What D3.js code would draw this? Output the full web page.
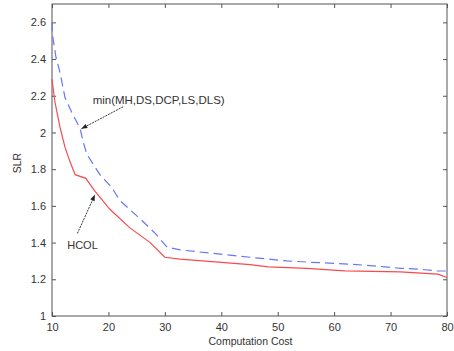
<!DOCTYPE html>
<html lang="en">
<head>
<meta charset="UTF-8">
<title>SLR vs Computation Cost</title>
<script src="https://cdn.jsdelivr.net/npm/d3@7"></script>
<style>
    html, body { margin: 0; background: #fff; }
    text { font-family: "Liberation Sans", Arial, sans-serif; fill: #333; }
</style>
</head>
<body>
<svg id="chart"></svg>
<script>
    // values
    const hcolCost = [10, 10.5, 11.4, 12.3, 13.2, 14.1, 16.0, 16.9, 17.6, 20.3, 23.8, 27.4, 30, 32.7, 45.1, 48.3, 55.2, 61.9, 71.7, 78.4, 80];
    const hcolSlr  = [2.29, 2.17, 2.03, 1.92, 1.84, 1.77, 1.75, 1.71, 1.68, 1.58, 1.48, 1.40, 1.32, 1.31, 1.28, 1.268, 1.26, 1.246, 1.24, 1.228, 1.21];
    const minCost = [10, 10.1, 10.7, 11.4, 12.3, 13.5, 15, 15.5, 16.2, 18.5, 20.6, 22, 25.6, 28.3, 30.4, 32.7, 45.1, 51.6, 55.7, 63.2, 69, 71.7, 75.2, 78.2, 80];
    const minSlr  = [2.60, 2.53, 2.41, 2.33, 2.19, 2.11, 2.02, 1.95, 1.88, 1.77, 1.70, 1.63, 1.53, 1.45, 1.375, 1.36, 1.32, 1.30, 1.293, 1.282, 1.268, 1.26, 1.255, 1.246, 1.245];
    const xTicks = [10, 20, 30, 40, 50, 60, 70, 80];
    const yTicks = [1, 1.2, 1.4, 1.6, 1.8, 2, 2.2, 2.4, 2.6];

    const width = 454, height = 351;
    const margin = {top: 4, right: 7, bottom: 35, left: 52};
    const innerWidth = width - margin.left - margin.right;
    const innerHeight = height - margin.top - margin.bottom;

    const svg = d3.select('#chart').attr('width', width).attr('height', height);
    const g = svg.append('g').attr('transform', `translate(${margin.left},${margin.top})`);

    const x = d3.scaleLinear().domain([10, 80]).range([0, innerWidth]);
    const y = d3.scaleLinear().domain([1, 2.7]).range([innerHeight, 0]);

    const axisColor = '#555';
    const styleAxis = sel => {
        sel.select('.domain').remove();
        sel.selectAll('line').attr('stroke', axisColor);
        sel.selectAll('text').style('font-size', '11px').attr('fill', '#444');
    };
    // top / right: tick marks only
    const marksOnly = sel => {
        sel.select('.domain').remove();
        sel.selectAll('text').remove();
        sel.selectAll('line').attr('stroke', axisColor);
    };

    g.append('g').attr('transform', `translate(0,${innerHeight})`)
        .call(d3.axisBottom(x).tickValues(xTicks).tickFormat(d3.format('d')).tickSizeInner(-4).tickPadding(7))
        .call(styleAxis);
    g.append('g')
        .call(d3.axisTop(x).tickValues(xTicks).tickSizeInner(-4))
        .call(marksOnly);
    g.append('g')
        .call(d3.axisLeft(y).tickValues(yTicks).tickFormat(d => d3.format('')(d)).tickSizeInner(-4).tickPadding(6))
        .call(styleAxis);
    g.append('g').attr('transform', `translate(${innerWidth},0)`)
        .call(d3.axisRight(y).tickValues(yTicks).tickSizeInner(-4))
        .call(marksOnly);

    g.append('rect')
        .attr('width', innerWidth).attr('height', innerHeight)
        .attr('fill', 'none').attr('stroke', axisColor).attr('stroke-width', 1);

    const line = d3.line().x(d => x(d[0])).y(d => y(d[1]));

    g.append('path')
        .datum(d3.zip(minCost, minSlr))
        .attr('d', line)
        .attr('fill', 'none').attr('stroke', '#6677f5').attr('stroke-width', 1.2)
        .attr('stroke-dasharray', '9,5');

    g.append('path')
        .datum(d3.zip(hcolCost, hcolSlr))
        .attr('d', line)
        .attr('fill', 'none').attr('stroke', '#f74a4e').attr('stroke-width', 1.2);

    // annotations
    svg.append('defs').append('marker')
        .attr('id', 'arrow').attr('viewBox', '0 0 10 10')
        .attr('refX', 10).attr('refY', 5)
        .attr('markerWidth', 7).attr('markerHeight', 6).attr('orient', 'auto')
        .append('path').attr('d', 'M0,1 L10,5 L0,9 Z').attr('fill', '#222');

    const note = (text, tx, ty, x1, y1, x2, y2, size) => {
        g.append('line')
            .attr('x1', x(x1)).attr('y1', y(y1)).attr('x2', x(x2)).attr('y2', y(y2))
            .attr('stroke', '#333').attr('stroke-width', 1).attr('stroke-dasharray', '2,1')
            .attr('marker-end', 'url(#arrow)');
        g.append('text').attr('x', x(tx)).attr('y', y(ty))
            .style('font-size', size).text(text);
    };
    note('min(MH,DS,DCP,LS,DLS)', 17.2, 2.155, 22.6, 2.14, 15.2, 2.02, '11.5px');
    note('HCOL', 12.7, 1.365, 14.5, 1.45, 17.6, 1.66, '11px');

    svg.append('text')
        .attr('transform', `translate(21,${margin.top + innerHeight / 2 + 3}) rotate(-90)`)
        .attr('text-anchor', 'middle').style('font-size', '10.5px').text('SLR');
    svg.append('text')
        .attr('x', margin.left + innerWidth / 2 + 1).attr('y', 345)
        .attr('text-anchor', 'middle').style('font-size', '10.5px').text('Computation Cost');
</script>
</body>
</html>
